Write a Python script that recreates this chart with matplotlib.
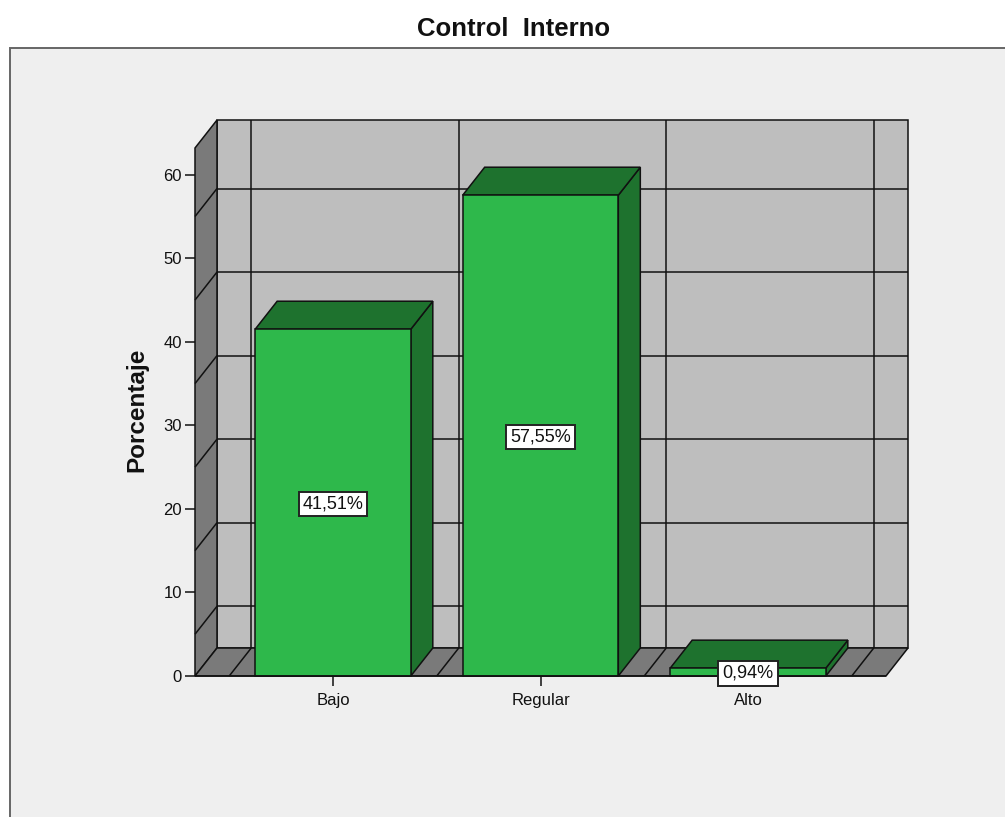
import matplotlib
matplotlib.use('Agg')
import matplotlib.pyplot as plt
from matplotlib.patches import Polygon, Rectangle

plt.rcParams['font.family'] = ['Liberation Sans', 'DejaVu Sans']

categories = ['Bajo', 'Regular', 'Alto']
percentages = [41.51, 57.55, 0.94]
bar_labels = ['41,51%', '57,55%', '0,94%']
y_ticks = [0, 10, 20, 30, 40, 50, 60]
grid_levels = [5, 15, 25, 35, 45, 55]
cell_edges = [-0.5, 0.5, 1.5, 2.5]

W, H = 1005, 817
X_MIN, X_MAX = -0.665, 2.665
Y_TOP = 63.2
# depth of the 3D box, in data units
DX, DY = 0.106, 3.35
BAR_W = 0.75

WALL = '#bebebe'
SIDE = '#7a7a7a'
BAR_FRONT = '#2eb84b'
BAR_DARK = '#1e722e'
LINE = '#111111'
LW = 1.1

fig = plt.figure(figsize=(W / 100, H / 100), dpi=100, facecolor='white')

# grey panel behind the chart
fig.add_artist(Rectangle((10 / W, -0.01), 1.1, (817 - 48) / H + 0.01,
                         transform=fig.transFigure, facecolor='#efefef',
                         edgecolor='#666666', linewidth=1.4, zorder=-1))

ax = fig.add_axes([195 / W, (H - 676) / H, 691 / W, 528 / H])
ax.set_xlim(X_MIN, X_MAX)
ax.set_ylim(0, Y_TOP)
ax.patch.set_visible(False)
for s in ax.spines.values():
    s.set_visible(False)


def face(points, color, z):
    ax.add_patch(Polygon(points, closed=True, facecolor=color, edgecolor=LINE,
                         linewidth=LW, clip_on=False, zorder=z, joinstyle='miter'))


def seg(xs, ys, z=1.5):
    ax.plot(xs, ys, color=LINE, lw=LW, clip_on=False, zorder=z, solid_capstyle='butt')


# back wall, left wall and floor
face([(X_MIN + DX, DY), (X_MAX + DX, DY), (X_MAX + DX, Y_TOP + DY), (X_MIN + DX, Y_TOP + DY)], WALL, 1)
face([(X_MIN, 0), (X_MIN + DX, DY), (X_MIN + DX, Y_TOP + DY), (X_MIN, Y_TOP)], SIDE, 1)
face([(X_MIN, 0), (X_MAX, 0), (X_MAX + DX, DY), (X_MIN + DX, DY)], SIDE, 1)

for level in grid_levels:
    seg([X_MIN + DX, X_MAX + DX], [level + DY, level + DY])
    seg([X_MIN, X_MIN + DX], [level, level + DY])

for edge in cell_edges:
    seg([edge + DX, edge + DX], [DY, Y_TOP + DY])
    seg([edge, edge + DX], [0, DY])

# bars: side and top faces first, then the front
for i, value in enumerate(percentages):
    left, right = i - BAR_W / 2, i + BAR_W / 2
    face([(right, 0), (right + DX, DY), (right + DX, value + DY), (right, value)], BAR_DARK, 3)
    face([(left, value), (right, value), (right + DX, value + DY), (left + DX, value + DY)], BAR_DARK, 3)
    ax.bar(i, value, width=BAR_W, color=BAR_FRONT, edgecolor=LINE, linewidth=LW,
           clip_on=False, zorder=4)
    ax.annotate(bar_labels[i], xy=(i, value / 2), xytext=(0, -1), textcoords='offset points',
                ha='center', va='center', fontsize=13, color='#111111', zorder=6,
                bbox=dict(boxstyle='square,pad=0.22', facecolor='white',
                          edgecolor='#222222', linewidth=1.4))

seg([X_MIN, X_MAX], [0, 0], z=5)

ax.set_xticks(range(len(categories)))
ax.set_xticklabels(categories)
ax.set_yticks(y_ticks)
ax.tick_params(axis='both', length=7.5, width=LW, color=LINE, labelsize=12,
               labelcolor='#111111', pad=2)
ax.tick_params(axis='x', pad=5)

fig.text(514 / W, 1 - 29 / H, 'Control  Interno', ha='center', va='center',
         fontsize=18.5, fontweight='bold', color='#111111')
fig.text(137 / W, 1 - 410 / H, 'Porcentaje', rotation=90, ha='center', va='center',
         fontsize=17.5, fontweight='bold', color='#111111')

fig.savefig('out.png', dpi=100)
